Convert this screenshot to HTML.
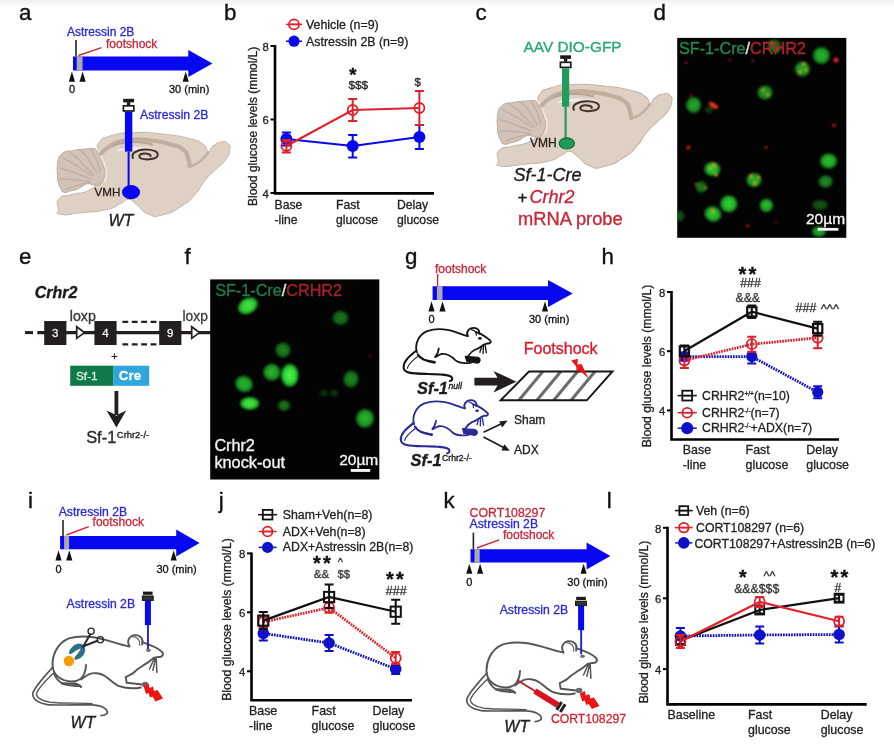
<!DOCTYPE html>
<html lang="en"><head><meta charset="utf-8"><title>Figure</title>
<style>
html,body{margin:0;padding:0;background:#fff;}
body{width:894px;height:746px;overflow:hidden;}
svg{display:block;font-family:"Liberation Sans", sans-serif;filter:blur(0.45px);}
</style></head><body>
<svg width="894" height="746" viewBox="0 0 894 746">
<defs>
<radialGradient id="gcell" cx="50%" cy="50%" r="50%">
<stop offset="0" stop-color="#2fd634"/><stop offset="0.55" stop-color="#25b92b"/><stop offset="0.85" stop-color="#178a20" stop-opacity="0.85"/><stop offset="1" stop-color="#0a3a10" stop-opacity="0"/>
</radialGradient>
<radialGradient id="gcellb" cx="50%" cy="50%" r="50%">
<stop offset="0" stop-color="#4cf54a"/><stop offset="0.6" stop-color="#2fd634"/><stop offset="0.88" stop-color="#1a9a22" stop-opacity="0.85"/><stop offset="1" stop-color="#0a3a10" stop-opacity="0"/>
</radialGradient>
<filter id="blur1" x="-5%" y="-5%" width="110%" height="110%"><feGaussianBlur stdDeviation="0.9"/></filter>
<clipPath id="clipd"><rect x="677.2" y="37.9" width="169.1" height="199.9"/></clipPath>
<clipPath id="clipf"><rect x="210.2" y="279.4" width="169.1" height="200.1"/></clipPath>
<linearGradient id="topg" x1="0" y1="0" x2="0" y2="1"><stop offset="0" stop-color="#f0f0f0"/><stop offset="1" stop-color="#ffffff"/></linearGradient>
</defs>
<rect x="0" y="0" width="894" height="746" fill="#fff"/>
<rect x="0" y="0" width="894" height="7" fill="url(#topg)"/>
<text x="19.0" y="19.5" font-size="22.3" fill="#111" stroke="#111" stroke-width="0.36">a</text>
<text x="67.0" y="35.5" font-size="12" fill="#2a2ad8" stroke="#2a2ad8" stroke-width="0.3">Astressin 2B</text>
<text x="106.0" y="47.5" font-size="12" fill="#c8283a" stroke="#c8283a" stroke-width="0.3">footshock</text>
<line x1="76" y1="40" x2="76" y2="56.5" stroke="#222" stroke-width="1.6"/>
<line x1="78.5" y1="55.5" x2="101.5" y2="47.6" stroke="#c8283a" stroke-width="1.4"/>
<polygon points="73,56.6 188.3,56.6 188.3,50 212.5,63.5 188.3,77 188.3,70.4 73,70.4" fill="#0707f2"/>
<rect x="76.7" y="56.6" width="5.9" height="13.8" fill="#a9a9b4"/>
<polygon points="68.8,81.7 75.0,81.7 71.9,71.5" fill="#111111"/>
<polygon points="79.5,81.7 85.7,81.7 82.6,71.5" fill="#111111"/>
<polygon points="182.6,81.7 188.8,81.7 185.7,71.5" fill="#111111"/>
<text x="72.0" y="93.4" font-size="11" text-anchor="middle" fill="#111111" stroke="#111111" stroke-width="0.3">0</text>
<text x="169.0" y="93.4" font-size="11" fill="#111111" stroke="#111111" stroke-width="0.3">30 (min)</text>
<g><path d="M99.3 142.5C103.3 137.7 98.6 139.2 110.4 135.9C122.2 132.6 117.2 133.2 134.6 132.6C152.0 132.0 144.6 132.1 162.7 134.1C180.8 136.1 175.5 135.1 188.9 138.5C202.3 141.9 196.5 139.9 203.0 144.2C209.5 148.5 204.9 150.9 208.3 151.5C211.7 152.1 208.8 149.1 213.1 146.0C217.4 142.9 216.1 142.8 221.1 142.1C226.1 141.4 225.2 141.1 228.0 143.8C230.8 146.5 230.6 144.7 229.6 150.2C228.6 155.7 230.0 153.6 225.1 160.3C220.2 167.0 221.7 163.6 215.0 170.3C208.3 177.0 211.7 172.3 205.0 180.4C198.3 188.5 203.0 185.8 195.0 194.5C187.0 203.2 191.7 199.8 180.9 206.6C170.1 213.4 173.4 212.3 162.7 214.8C152.0 217.3 157.4 217.6 148.7 214.2C140.0 210.8 143.3 209.5 136.6 204.6C129.9 199.7 133.9 199.8 128.5 199.5C123.1 199.2 127.9 200.2 120.5 203.6C113.1 207.0 119.2 206.6 106.4 209.6C93.6 212.6 97.3 211.0 82.2 212.6C67.1 214.2 69.1 215.7 61.2 214.4C53.3 213.1 58.9 213.9 58.4 208.6C57.9 203.3 55.0 203.1 59.6 198.4C64.2 193.7 61.9 197.5 72.1 194.5C82.3 191.5 80.9 194.9 90.3 189.5C99.7 184.1 95.1 185.5 100.3 178.4C105.5 171.3 105.7 175.0 106.0 168.3C106.3 161.6 103.9 164.3 101.3 158.3C98.7 152.3 99.0 155.5 98.3 150.2C97.6 144.9 95.3 147.3 99.3 142.5Z" fill="#dfd0c4" stroke="#c6b4a6" stroke-width="1"/><path d="M61.4 154.6C63.9 152.1 62.5 152.8 66.0 151.6C69.5 150.4 68.0 151.5 72.0 150.9C76.0 150.3 74.0 150.2 78.0 149.7C82.0 149.2 80.0 149.6 84.0 149.3C88.0 149.0 86.5 148.9 90.0 148.7C93.5 148.5 92.1 148.0 94.4 148.8C96.7 149.6 95.3 148.9 96.8 151.0C98.3 153.1 97.3 152.0 98.8 155.0C100.3 158.0 99.6 156.3 101.2 160.0C102.8 163.7 102.4 162.0 103.6 166.0C104.8 170.0 104.7 168.0 104.8 172.0C104.9 176.0 105.3 174.3 104.0 178.0C102.7 181.7 103.2 180.5 101.0 183.0C98.8 185.5 100.2 185.0 97.5 185.5C94.8 186.0 96.2 185.2 93.0 184.6C89.8 184.0 91.0 183.5 88.0 183.6C85.0 183.7 86.7 183.7 84.0 185.0C81.3 186.3 82.7 186.1 80.0 187.6C77.3 189.1 79.3 188.5 76.0 189.6C72.7 190.7 74.0 190.1 70.0 191.0C66.0 191.9 67.2 193.2 64.0 192.2C60.8 191.2 62.4 191.4 60.5 188.0C58.6 184.6 59.2 186.7 58.2 182.0C57.2 177.3 57.7 179.3 57.4 174.0C57.1 168.7 57.0 171.0 57.4 166.0C57.8 161.0 57.2 162.8 58.5 159.0C59.8 155.2 58.9 157.1 61.4 154.6Z" fill="#d2c3b8" stroke="#c3b3a8" stroke-width="1.2"/><path d="M63.0 158.0C66.0 159.7 65.7 159.3 72.0 163.0C78.3 166.7 75.3 164.7 82.0 169.0C88.7 173.3 88.7 173.7 92.0 176.0" fill="none" stroke="#c2b0a4" stroke-width="1.5" stroke-linecap="round"/><path d="M59.5 168.0C63.0 169.0 63.2 168.7 70.0 171.0C76.8 173.3 73.0 172.3 80.0 175.0C87.0 177.7 87.3 177.7 91.0 179.0" fill="none" stroke="#c2b0a4" stroke-width="1.5" stroke-linecap="round"/><path d="M60.0 179.0C63.3 179.2 63.3 179.0 70.0 179.5C76.7 180.0 73.3 179.8 80.0 180.5C86.7 181.2 86.7 181.2 90.0 181.5" fill="none" stroke="#c2b0a4" stroke-width="1.5" stroke-linecap="round"/><path d="M70.0 152.5C72.7 154.7 72.7 154.2 78.0 159.0C83.3 163.8 80.7 161.7 86.0 167.0C91.3 172.3 91.3 172.3 94.0 175.0" fill="none" stroke="#c2b0a4" stroke-width="1.5" stroke-linecap="round"/><path d="M81.0 150.5C83.0 152.7 83.3 152.2 87.0 157.0C90.7 161.8 88.8 159.7 92.0 165.0C95.2 170.3 95.0 170.3 96.5 173.0" fill="none" stroke="#c2b0a4" stroke-width="1.5" stroke-linecap="round"/><path d="M91.0 150.0C92.3 152.3 92.5 152.0 95.0 157.0C97.5 162.0 96.8 160.0 98.5 165.0C100.2 170.0 99.5 169.7 100.0 172.0" fill="none" stroke="#c2b0a4" stroke-width="1.5" stroke-linecap="round"/><path d="M66.0 189.0C68.7 188.2 68.7 188.2 74.0 186.5C79.3 184.8 76.7 185.3 82.0 184.0C87.3 182.7 87.3 183.0 90.0 182.5" fill="none" stroke="#c2b0a4" stroke-width="1.5" stroke-linecap="round"/><path d="M98 150C100.5 156 104.5 162 106.2 168.5C106.8 173.5 106 178 104.5 181.5" fill="none" stroke="#efe8e2" stroke-width="1.5" stroke-linecap="round"/><path d="M101.0 153.5C103.3 151.5 102.3 151.3 108.0 147.5C113.7 143.7 109.3 144.8 118.0 142.2C126.7 139.6 122.7 140.1 134.0 139.6C145.3 139.1 140.0 139.1 152.0 140.6C164.0 142.1 159.7 141.2 170.0 144.2C180.3 147.2 177.0 144.9 183.0 149.5C189.0 154.1 185.8 152.5 188.0 158.0C190.2 163.5 189.0 163.3 189.5 166.0" fill="none" stroke="#c2aea1" stroke-width="4.2" stroke-linecap="round"/><path d="M189.5 166.5C192.0 165.5 192.2 166.5 197.0 163.5C201.8 160.5 200.3 161.2 204.0 157.5C207.7 153.8 206.7 154.2 208.0 152.5" fill="none" stroke="#c3b0a3" stroke-width="2.5" stroke-linecap="round"/><path d="M113 146C120 141.5 140 140.5 152 144.5" fill="none" stroke="#b9a597" stroke-width="2.2" stroke-linecap="round"/><path d="M117 150.5C124 147 146 146 156 149.8C146 148.6 126 149.4 117 150.5Z" fill="#f3efec" stroke="#efe9e5" stroke-width="1.4"/><path d="M133 158C130.4 153.4 137 149.8 145 149.5C153 149.2 158.6 151.6 157.6 155.4C156.6 159 147 160.3 141.6 158.6C137.6 157.1 139.2 153.7 144 153.5C148 153.4 151 154.6 150.6 156.2" fill="none" stroke="#3f342c" stroke-width="2" stroke-linecap="round"/></g>
<rect x="123.2" y="98.8" width="10.8" height="3.6" fill="#1a1a1a"/>
<rect x="126.9" y="102.2" width="3.4" height="3.0" fill="#1a1a1a"/>
<rect x="123.4" y="105.8" width="10.4" height="5.2" fill="#fff" stroke="#1a1a1a" stroke-width="1.7"/>
<rect x="124.9" y="111.8" width="7.4" height="39.8" fill="#0707f2"/>
<rect x="127.6" y="151.6" width="2" height="36.4" fill="#0707f2"/>
<ellipse cx="131" cy="192.2" rx="9" ry="7.1" fill="#0707f2"/>
<text x="140.0" y="119.2" font-size="12.2" fill="#2a2ad8" stroke="#2a2ad8" stroke-width="0.3">Astressin 2B</text>
<text x="94.6" y="196.0" font-size="11.6" fill="#2b2420" stroke="#2b2420" stroke-width="0.3">VMH</text>
<text x="108.5" y="226.0" font-size="16" font-style="italic" fill="#222" stroke="#222" stroke-width="0.36">WT</text>
<text x="224.0" y="19.5" font-size="22.3" fill="#111" stroke="#111" stroke-width="0.36">b</text>
<path d="M275.0 45V193.4H434" fill="none" stroke="#000" stroke-width="2.6"/>
<line x1="270.5" y1="46" x2="275.0" y2="46" stroke="#000" stroke-width="2"/>
<text x="268.7" y="50.7" font-size="11.3" text-anchor="end" fill="#222" stroke="#222" stroke-width="0.3">8</text>
<line x1="270.5" y1="119.5" x2="275.0" y2="119.5" stroke="#000" stroke-width="2"/>
<text x="268.7" y="124.2" font-size="11.3" text-anchor="end" fill="#222" stroke="#222" stroke-width="0.3">6</text>
<line x1="270.5" y1="193" x2="275.0" y2="193" stroke="#000" stroke-width="2"/>
<text x="268.7" y="197.7" font-size="11.3" text-anchor="end" fill="#222" stroke="#222" stroke-width="0.3">4</text>
<text transform="translate(257.2,126.3) rotate(-90)" font-size="11.95" text-anchor="middle" fill="#222" stroke="#222" stroke-width="0.3">Blood glucose levels (mmol/L)</text>
<polyline points="286.4,139.0 352.7,146.0 419.4,137.0" fill="none" stroke="#0707f2" stroke-width="2.2"/>
<path d="M286.4 132.5V145.5M281.9 132.5h9.0M281.9 145.5h9.0" stroke="#0707f2" stroke-width="2" fill="none"/>
<path d="M352.7 135.0V157.5M348.2 135.0h9.0M348.2 157.5h9.0" stroke="#0707f2" stroke-width="2" fill="none"/>
<path d="M419.4 125.0V149.0M414.9 125.0h9.0M414.9 149.0h9.0" stroke="#0707f2" stroke-width="2" fill="none"/>
<circle cx="286.4" cy="139.0" r="6" fill="#0707f2"/>
<circle cx="352.7" cy="146.0" r="6" fill="#0707f2"/>
<circle cx="419.4" cy="137.0" r="6" fill="#0707f2"/>
<polyline points="286.4,146.0 352.7,110.0 419.4,108.0" fill="none" stroke="#e0202a" stroke-width="2.2"/>
<path d="M286.4 140.0V152.5M281.9 140.0h9.0M281.9 152.5h9.0" stroke="#e0202a" stroke-width="2" fill="none"/>
<path d="M352.7 99.0V121.0M348.2 99.0h9.0M348.2 121.0h9.0" stroke="#e0202a" stroke-width="2" fill="none"/>
<path d="M419.4 91.0V125.0M414.9 91.0h9.0M414.9 125.0h9.0" stroke="#e0202a" stroke-width="2" fill="none"/>
<circle cx="286.4" cy="146.0" r="5" fill="none" stroke="#e0202a" stroke-width="1.8"/>
<circle cx="352.7" cy="110.0" r="5" fill="none" stroke="#e0202a" stroke-width="1.8"/>
<circle cx="419.4" cy="108.0" r="5" fill="none" stroke="#e0202a" stroke-width="1.8"/>
<line x1="286" y1="24.4" x2="302" y2="24.4" stroke="#e0202a" stroke-width="1.5"/>
<circle cx="294.0" cy="24.4" r="5.0" fill="none" stroke="#e0202a" stroke-width="1.8"/>
<line x1="289.0" y1="24.4" x2="299.0" y2="24.4" stroke="#e0202a" stroke-width="1.6"/>
<text x="306.0" y="28.8" font-size="12.4" fill="#222" stroke="#222" stroke-width="0.3">Vehicle (n=9)</text>
<line x1="286" y1="41.2" x2="302" y2="41.2" stroke="#0707f2" stroke-width="1.5"/>
<circle cx="294.0" cy="41.2" r="5.6" fill="#0707f2"/>
<text x="306.0" y="45.6" font-size="12.4" fill="#222" stroke="#222" stroke-width="0.3">Astressin 2B (n=9)</text>
<text x="352.9" y="81.4" font-size="18.5" text-anchor="middle" font-weight="bold" fill="#111" stroke="#111" stroke-width="0.36">*</text>
<text x="358.3" y="88.6" font-size="11.8" text-anchor="middle" fill="#222" stroke="#222" stroke-width="0.3">$$$</text>
<text x="417.8" y="85.6" font-size="11.5" text-anchor="middle" fill="#222" stroke="#222" stroke-width="0.3">$</text>
<text x="274.5" y="209.3" font-size="12.2" fill="#222" stroke="#222" stroke-width="0.3">Base</text>
<text x="274.5" y="224.0" font-size="12.2" fill="#222" stroke="#222" stroke-width="0.3">-line</text>
<text x="336.0" y="209.3" font-size="12.2" fill="#222" stroke="#222" stroke-width="0.3">Fast</text>
<text x="336.0" y="224.0" font-size="12.2" fill="#222" stroke="#222" stroke-width="0.3">glucose</text>
<text x="397.0" y="209.3" font-size="12.2" fill="#222" stroke="#222" stroke-width="0.3">Delay</text>
<text x="397.0" y="224.0" font-size="12.2" fill="#222" stroke="#222" stroke-width="0.3">glucose</text>
<text x="475.5" y="19.8" font-size="22.3" fill="#111" stroke="#111" stroke-width="0.36">c</text>
<text x="523.5" y="51.5" font-size="15.4" fill="#2ba77a" stroke="#2ba77a" stroke-width="0.36">AAV DIO-GFP</text>
<g transform="translate(439.3,-48.2) scale(1.012,1)"><path d="M99.3 142.5C103.3 137.7 98.6 139.2 110.4 135.9C122.2 132.6 117.2 133.2 134.6 132.6C152.0 132.0 144.6 132.1 162.7 134.1C180.8 136.1 175.5 135.1 188.9 138.5C202.3 141.9 196.5 139.9 203.0 144.2C209.5 148.5 204.9 150.9 208.3 151.5C211.7 152.1 208.8 149.1 213.1 146.0C217.4 142.9 216.1 142.8 221.1 142.1C226.1 141.4 225.2 141.1 228.0 143.8C230.8 146.5 230.6 144.7 229.6 150.2C228.6 155.7 230.0 153.6 225.1 160.3C220.2 167.0 221.7 163.6 215.0 170.3C208.3 177.0 211.7 172.3 205.0 180.4C198.3 188.5 203.0 185.8 195.0 194.5C187.0 203.2 191.7 199.8 180.9 206.6C170.1 213.4 173.4 212.3 162.7 214.8C152.0 217.3 157.4 217.6 148.7 214.2C140.0 210.8 143.3 209.5 136.6 204.6C129.9 199.7 133.9 199.8 128.5 199.5C123.1 199.2 127.9 200.2 120.5 203.6C113.1 207.0 119.2 206.6 106.4 209.6C93.6 212.6 97.3 211.0 82.2 212.6C67.1 214.2 69.1 215.7 61.2 214.4C53.3 213.1 58.9 213.9 58.4 208.6C57.9 203.3 55.0 203.1 59.6 198.4C64.2 193.7 61.9 197.5 72.1 194.5C82.3 191.5 80.9 194.9 90.3 189.5C99.7 184.1 95.1 185.5 100.3 178.4C105.5 171.3 105.7 175.0 106.0 168.3C106.3 161.6 103.9 164.3 101.3 158.3C98.7 152.3 99.0 155.5 98.3 150.2C97.6 144.9 95.3 147.3 99.3 142.5Z" fill="#dfd0c4" stroke="#c6b4a6" stroke-width="1"/><path d="M61.4 154.6C63.9 152.1 62.5 152.8 66.0 151.6C69.5 150.4 68.0 151.5 72.0 150.9C76.0 150.3 74.0 150.2 78.0 149.7C82.0 149.2 80.0 149.6 84.0 149.3C88.0 149.0 86.5 148.9 90.0 148.7C93.5 148.5 92.1 148.0 94.4 148.8C96.7 149.6 95.3 148.9 96.8 151.0C98.3 153.1 97.3 152.0 98.8 155.0C100.3 158.0 99.6 156.3 101.2 160.0C102.8 163.7 102.4 162.0 103.6 166.0C104.8 170.0 104.7 168.0 104.8 172.0C104.9 176.0 105.3 174.3 104.0 178.0C102.7 181.7 103.2 180.5 101.0 183.0C98.8 185.5 100.2 185.0 97.5 185.5C94.8 186.0 96.2 185.2 93.0 184.6C89.8 184.0 91.0 183.5 88.0 183.6C85.0 183.7 86.7 183.7 84.0 185.0C81.3 186.3 82.7 186.1 80.0 187.6C77.3 189.1 79.3 188.5 76.0 189.6C72.7 190.7 74.0 190.1 70.0 191.0C66.0 191.9 67.2 193.2 64.0 192.2C60.8 191.2 62.4 191.4 60.5 188.0C58.6 184.6 59.2 186.7 58.2 182.0C57.2 177.3 57.7 179.3 57.4 174.0C57.1 168.7 57.0 171.0 57.4 166.0C57.8 161.0 57.2 162.8 58.5 159.0C59.8 155.2 58.9 157.1 61.4 154.6Z" fill="#d2c3b8" stroke="#c3b3a8" stroke-width="1.2"/><path d="M63.0 158.0C66.0 159.7 65.7 159.3 72.0 163.0C78.3 166.7 75.3 164.7 82.0 169.0C88.7 173.3 88.7 173.7 92.0 176.0" fill="none" stroke="#c2b0a4" stroke-width="1.5" stroke-linecap="round"/><path d="M59.5 168.0C63.0 169.0 63.2 168.7 70.0 171.0C76.8 173.3 73.0 172.3 80.0 175.0C87.0 177.7 87.3 177.7 91.0 179.0" fill="none" stroke="#c2b0a4" stroke-width="1.5" stroke-linecap="round"/><path d="M60.0 179.0C63.3 179.2 63.3 179.0 70.0 179.5C76.7 180.0 73.3 179.8 80.0 180.5C86.7 181.2 86.7 181.2 90.0 181.5" fill="none" stroke="#c2b0a4" stroke-width="1.5" stroke-linecap="round"/><path d="M70.0 152.5C72.7 154.7 72.7 154.2 78.0 159.0C83.3 163.8 80.7 161.7 86.0 167.0C91.3 172.3 91.3 172.3 94.0 175.0" fill="none" stroke="#c2b0a4" stroke-width="1.5" stroke-linecap="round"/><path d="M81.0 150.5C83.0 152.7 83.3 152.2 87.0 157.0C90.7 161.8 88.8 159.7 92.0 165.0C95.2 170.3 95.0 170.3 96.5 173.0" fill="none" stroke="#c2b0a4" stroke-width="1.5" stroke-linecap="round"/><path d="M91.0 150.0C92.3 152.3 92.5 152.0 95.0 157.0C97.5 162.0 96.8 160.0 98.5 165.0C100.2 170.0 99.5 169.7 100.0 172.0" fill="none" stroke="#c2b0a4" stroke-width="1.5" stroke-linecap="round"/><path d="M66.0 189.0C68.7 188.2 68.7 188.2 74.0 186.5C79.3 184.8 76.7 185.3 82.0 184.0C87.3 182.7 87.3 183.0 90.0 182.5" fill="none" stroke="#c2b0a4" stroke-width="1.5" stroke-linecap="round"/><path d="M98 150C100.5 156 104.5 162 106.2 168.5C106.8 173.5 106 178 104.5 181.5" fill="none" stroke="#efe8e2" stroke-width="1.5" stroke-linecap="round"/><path d="M101.0 153.5C103.3 151.5 102.3 151.3 108.0 147.5C113.7 143.7 109.3 144.8 118.0 142.2C126.7 139.6 122.7 140.1 134.0 139.6C145.3 139.1 140.0 139.1 152.0 140.6C164.0 142.1 159.7 141.2 170.0 144.2C180.3 147.2 177.0 144.9 183.0 149.5C189.0 154.1 185.8 152.5 188.0 158.0C190.2 163.5 189.0 163.3 189.5 166.0" fill="none" stroke="#c2aea1" stroke-width="4.2" stroke-linecap="round"/><path d="M189.5 166.5C192.0 165.5 192.2 166.5 197.0 163.5C201.8 160.5 200.3 161.2 204.0 157.5C207.7 153.8 206.7 154.2 208.0 152.5" fill="none" stroke="#c3b0a3" stroke-width="2.5" stroke-linecap="round"/><path d="M113 146C120 141.5 140 140.5 152 144.5" fill="none" stroke="#b9a597" stroke-width="2.2" stroke-linecap="round"/><path d="M117 150.5C124 147 146 146 156 149.8C146 148.6 126 149.4 117 150.5Z" fill="#f3efec" stroke="#efe9e5" stroke-width="1.4"/><path d="M133 158C130.4 153.4 137 149.8 145 149.5C153 149.2 158.6 151.6 157.6 155.4C156.6 159 147 160.3 141.6 158.6C137.6 157.1 139.2 153.7 144 153.5C148 153.4 151 154.6 150.6 156.2" fill="none" stroke="#3f342c" stroke-width="2" stroke-linecap="round"/></g>
<rect x="560.2" y="55.3" width="10.8" height="3.6" fill="#1a1a1a"/>
<rect x="563.9" y="58.7" width="3.4" height="3.0" fill="#1a1a1a"/>
<rect x="560.4" y="62.3" width="10.4" height="5.1" fill="#fff" stroke="#1a1a1a" stroke-width="1.7"/>
<rect x="562.0" y="68.2" width="7.2" height="38.6" fill="#1f9c5c"/>
<rect x="564.5" y="106.8" width="2.2" height="33.2" fill="#1f9c5c"/>
<ellipse cx="566.8" cy="143.4" rx="7.6" ry="5.6" fill="#1f9c5c" stroke="#14683c" stroke-width="1.2"/>
<text x="530.0" y="147.0" font-size="12" fill="#2b2420" stroke="#2b2420" stroke-width="0.3">VMH</text>
<text x="513.5" y="181.4" font-size="18" font-style="italic" fill="#1c1c1c" stroke="#1c1c1c" stroke-width="0.36">Sf-1-Cre</text>
<text x="517.5" y="203.2" font-size="17" fill="#1c1c1c" stroke="#1c1c1c" stroke-width="0.36">+</text>
<text x="529.5" y="203.3" font-size="18" font-style="italic" fill="#c8283a" stroke="#c8283a" stroke-width="0.36">Crhr2</text>
<text x="518.0" y="224.6" font-size="18.3" fill="#c8283a" stroke="#c8283a" stroke-width="0.36">mRNA probe</text>
<text x="653.5" y="19.8" font-size="22.3" fill="#111" stroke="#111" stroke-width="0.36">d</text>
<rect x="677.2" y="37.9" width="169.1" height="199.9" fill="#030303"/>
<g clip-path="url(#clipd)"><g filter="url(#blur1)">
<ellipse cx="774.6" cy="46.5" rx="8" ry="8" fill="url(#gcell)" opacity="0.55"/>
<ellipse cx="821.4" cy="55.5" rx="9.5" ry="9.5" fill="url(#gcell)" opacity="0.85"/>
<ellipse cx="802.4" cy="69" rx="8.5" ry="8.5" fill="url(#gcell)" opacity="0.8"/>
<ellipse cx="765" cy="92.5" rx="8.5" ry="8" fill="url(#gcell)" opacity="0.75"/>
<ellipse cx="693.6" cy="105" rx="8.5" ry="9" fill="url(#gcell)" opacity="0.8"/>
<ellipse cx="712.4" cy="169" rx="9" ry="8" fill="url(#gcell)" opacity="0.95"/>
<ellipse cx="754" cy="180" rx="8.5" ry="8" fill="url(#gcell)" opacity="0.85"/>
<ellipse cx="701.3" cy="187" rx="6.5" ry="6.5" fill="url(#gcell)" opacity="0.55"/>
<ellipse cx="828.6" cy="161" rx="9.5" ry="8.5" fill="url(#gcell)" opacity="0.9"/>
<ellipse cx="825.6" cy="181.5" rx="8" ry="7" fill="url(#gcell)" opacity="0.65"/>
<ellipse cx="728.8" cy="203.8" rx="9.5" ry="9.5" fill="url(#gcell)" opacity="1.0"/>
<ellipse cx="766.4" cy="205.4" rx="7.5" ry="7.5" fill="url(#gcell)" opacity="0.9"/>
<ellipse cx="712.9" cy="214" rx="9.5" ry="8.5" fill="url(#gcell)" opacity="0.95" transform="rotate(25 712.9 214)"/>
<ellipse cx="820" cy="205" rx="9" ry="6" fill="url(#gcell)" opacity="0.4"/>
<ellipse cx="819" cy="231.5" rx="8" ry="6" fill="url(#gcell)" opacity="0.8"/>
<ellipse cx="680" cy="216" rx="5" ry="6" fill="url(#gcell)" opacity="0.4"/>
<ellipse cx="709" cy="110" rx="5" ry="4" fill="url(#gcell)" opacity="0.25"/>
<circle cx="713" cy="105" r="2.6" fill="#f03a20" opacity="0.95"/>
<circle cx="716" cy="107" r="2.2" fill="#f03a20" opacity="0.9"/>
<circle cx="710.5" cy="103.5" r="2" fill="#f03a20" opacity="0.8"/>
<circle cx="836" cy="60" r="2.6" fill="#e8202a" opacity="0.95"/>
<circle cx="834" cy="125.5" r="1.8" fill="#e8202a" opacity="0.85"/>
<circle cx="686" cy="62.5" r="1.6" fill="#e8202a" opacity="0.5"/>
<circle cx="730" cy="60" r="1.4" fill="#e8202a" opacity="0.5"/>
<circle cx="752.8" cy="61" r="1.4" fill="#e8202a" opacity="0.6"/>
<circle cx="691" cy="95" r="1.3" fill="#e8202a" opacity="0.6"/>
<circle cx="688.4" cy="147.5" r="2.2" fill="#e8202a" opacity="0.75"/>
<circle cx="766" cy="147.5" r="1.6" fill="#e8202a" opacity="0.75"/>
<circle cx="747.6" cy="225.7" r="1.8" fill="#e8202a" opacity="0.7"/>
<circle cx="776" cy="222" r="1.2" fill="#e8202a" opacity="0.4"/>
<circle cx="714" cy="165" r="1.8" fill="#f0a020" opacity="0.85"/>
<circle cx="716.5" cy="175" r="1.5" fill="#f0a020" opacity="0.85"/>
<circle cx="710" cy="168" r="1.2" fill="#f0a020" opacity="0.85"/>
<circle cx="751" cy="176" r="1.4" fill="#f0a020" opacity="0.85"/>
<circle cx="759" cy="177" r="1.2" fill="#f0a020" opacity="0.85"/>
<circle cx="755" cy="183.5" r="1.5" fill="#f0a020" opacity="0.85"/>
<circle cx="804" cy="64" r="1.4" fill="#f0a020" opacity="0.85"/>
<circle cx="800" cy="72" r="1.5" fill="#f0a020" opacity="0.85"/>
<circle cx="806" cy="70" r="1.2" fill="#f0a020" opacity="0.85"/>
<circle cx="763" cy="90" r="1.2" fill="#f0a020" opacity="0.85"/>
<circle cx="768" cy="95" r="1.3" fill="#f0a020" opacity="0.85"/>
<circle cx="771" cy="43" r="1.4" fill="#f0a020" opacity="0.85"/>
<circle cx="777" cy="49" r="1.2" fill="#f0a020" opacity="0.85"/>
<circle cx="713" cy="211" r="1.6" fill="#f0a020" opacity="0.85"/>
<circle cx="696" cy="184" r="1.1" fill="#f0a020" opacity="0.85"/>
<circle cx="706" cy="188" r="1.1" fill="#f0a020" opacity="0.85"/>
</g>
<text x="679.0" y="54.2" font-size="16.2" fill="#23864f" stroke="#23864f" stroke-width="0.36">SF-1-Cre<tspan fill="#e8e8e8" stroke="#e8e8e8">/</tspan><tspan fill="#b0222c" stroke="#b0222c">CRHR2</tspan></text>
<text x="806.0" y="224.3" font-size="15.5" fill="#f4f4f4" stroke="#f4f4f4" stroke-width="0.36">20µm</text>
<rect x="817.8" y="227.9" width="20.5" height="2.8" fill="#f4f4f4"/>
</g>
<text x="19.0" y="263.8" font-size="22.3" fill="#111" stroke="#111" stroke-width="0.36">e</text>
<text x="34.7" y="298.0" font-size="16" font-weight="bold" font-style="italic" fill="#1c1c1c" stroke="#1c1c1c" stroke-width="0.36">Crhr2</text>
<line x1="25" y1="332.6" x2="33" y2="332.6" stroke="#231f20" stroke-width="3"/>
<line x1="37.3" y1="332.6" x2="211" y2="332.6" stroke="#231f20" stroke-width="3.1"/>
<rect x="44.2" y="321" width="22.2" height="24" fill="#231f20"/>
<text x="55.3" y="337.0" font-size="11.5" text-anchor="middle" fill="#f2f2f2" stroke="#f2f2f2" stroke-width="0.3">3</text>
<rect x="94.4" y="321" width="22.2" height="24" fill="#231f20"/>
<text x="105.5" y="337.0" font-size="11.5" text-anchor="middle" fill="#f2f2f2" stroke="#f2f2f2" stroke-width="0.3">4</text>
<rect x="159.2" y="321" width="22.2" height="24" fill="#231f20"/>
<text x="170.3" y="337.0" font-size="11.5" text-anchor="middle" fill="#f2f2f2" stroke="#f2f2f2" stroke-width="0.3">9</text>
<polygon points="76.7,326.8 84.5,332.6 76.7,338.40000000000003" fill="#fff" stroke="#231f20" stroke-width="1.7" stroke-linejoin="miter"/>
<polygon points="191.7,326.8 199.5,332.6 191.7,338.40000000000003" fill="#fff" stroke="#231f20" stroke-width="1.7" stroke-linejoin="miter"/>
<text x="69.8" y="320.8" font-size="14.2" fill="#3a3a3a" stroke="#3a3a3a" stroke-width="0.36">loxp</text>
<text x="182.5" y="320.8" font-size="13.8" fill="#3a3a3a" stroke="#3a3a3a" stroke-width="0.3">loxp</text>
<line x1="122.4" y1="321.8" x2="157" y2="321.8" stroke="#231f20" stroke-width="2.2" stroke-dasharray="5.8 3.6"/>
<line x1="122.4" y1="344.4" x2="157" y2="344.4" stroke="#231f20" stroke-width="2.2" stroke-dasharray="5.8 3.6"/>
<text x="114.5" y="360.2" font-size="11" text-anchor="middle" fill="#222" stroke="#222" stroke-width="0.3">+</text>
<rect x="70.2" y="365.7" width="43.2" height="20.1" fill="#0f7a48"/>
<rect x="113.2" y="365.7" width="36" height="20.1" fill="#2fa5de"/>
<text x="76.0" y="379.8" font-size="11.8" fill="#dcefe3" stroke="#dcefe3" stroke-width="0.3">Sf-1</text>
<text x="118.8" y="380.2" font-size="13.4" font-weight="bold" fill="#ffffff" stroke="#ffffff" stroke-width="0.3">Cre</text>
<rect x="114.5" y="391" width="3.8" height="24" fill="#231f20"/>
<path d="M106.6 410.5C111 412.5 114.5 414 116.4 416C118.3 414 121.8 412.5 126.2 410.5L116.4 427.5Z" fill="#231f20"/>
<text x="86.2" y="443.2" font-size="16.4" fill="#2a2a2a" stroke="#2a2a2a" stroke-width="0.36">Sf-1<tspan font-size="9.4" dy="-5.4" dx="0.6">Crhr2-/-</tspan></text>
<text x="184.5" y="263.8" font-size="22.3" fill="#111" stroke="#111" stroke-width="0.36">f</text>
<rect x="210.2" y="279.4" width="169.1" height="200.1" fill="#030303"/>
<g clip-path="url(#clipf)"><g filter="url(#blur1)">
<ellipse cx="247.9" cy="305.8" rx="11.5" ry="8.5" fill="url(#gcellb)" opacity="0.95" transform="rotate(-30 247.9 305.8)"/>
<ellipse cx="340.5" cy="317.9" rx="9" ry="8" fill="url(#gcell)" opacity="0.55"/>
<ellipse cx="283" cy="350" rx="8.5" ry="8.5" fill="url(#gcell)" opacity="0.6"/>
<ellipse cx="271.8" cy="372.2" rx="9.5" ry="9.5" fill="url(#gcell)" opacity="0.85"/>
<ellipse cx="289.8" cy="375.3" rx="9.5" ry="12.5" fill="url(#gcellb)" opacity="1.0"/>
<ellipse cx="351" cy="379" rx="8.5" ry="9.5" fill="url(#gcell)" opacity="0.62" transform="rotate(10 351 379)"/>
<ellipse cx="244" cy="384" rx="10" ry="9" fill="url(#gcell)" opacity="0.85" transform="rotate(25 244 384)"/>
<ellipse cx="249.7" cy="403.4" rx="10.5" ry="7" fill="url(#gcellb)" opacity="0.95"/>
<ellipse cx="284" cy="405.5" rx="7" ry="6" fill="url(#gcell)" opacity="0.55"/>
<ellipse cx="365" cy="418.4" rx="10" ry="10.5" fill="url(#gcell)" opacity="0.85" transform="rotate(20 365 418.4)"/>
<ellipse cx="323.8" cy="393" rx="5" ry="4" fill="url(#gcell)" opacity="0.2"/>
<ellipse cx="334" cy="393" rx="5" ry="4" fill="url(#gcell)" opacity="0.25"/>
<circle cx="370" cy="355.7" r="1.1" fill="#e8202a" opacity="0.6"/>
</g>
<text x="215.2" y="296.2" font-size="16.2" fill="#217a4c" stroke="#217a4c" stroke-width="0.36">SF-1-Cre<tspan fill="#e8e8e8" stroke="#e8e8e8">/</tspan><tspan fill="#a8202c" stroke="#a8202c">CRHR2</tspan></text>
<text x="214.4" y="451.0" font-size="16.2" fill="#f2f2f2" stroke="#f2f2f2" stroke-width="0.36">Crhr2</text>
<text x="214.4" y="467.8" font-size="16.3" fill="#f2f2f2" stroke="#f2f2f2" stroke-width="0.36">knock-out</text>
<text x="339.2" y="465.4" font-size="15.5" fill="#f4f4f4" stroke="#f4f4f4" stroke-width="0.36">20µm</text>
<rect x="350.8" y="469" width="19.4" height="2.9" fill="#f4f4f4"/>
</g>
<text x="405.0" y="263.8" font-size="22.3" fill="#111" stroke="#111" stroke-width="0.36">g</text>
<text x="435.0" y="273.2" font-size="12" fill="#c8283a" stroke="#c8283a" stroke-width="0.3">footshock</text>
<line x1="437.6" y1="274" x2="437.6" y2="286.5" stroke="#c8283a" stroke-width="1.4"/>
<polygon points="432.6,286.3 548,286.3 548,280 572.8,293.5 548,307 548,300.1 432.6,300.1" fill="#0707f2"/>
<rect x="436.9" y="286.3" width="5.6" height="13.8" fill="#a9a9b4"/>
<polygon points="428.4,311.4 434.6,311.4 431.5,301.3" fill="#111111"/>
<polygon points="439.4,311.4 445.6,311.4 442.5,301.3" fill="#111111"/>
<polygon points="541.9,311.4 548.1,311.4 545,301.3" fill="#111111"/>
<text x="431.5" y="322.9" font-size="11" text-anchor="middle" fill="#111111" stroke="#111111" stroke-width="0.3">0</text>
<text x="529.0" y="322.9" font-size="11" fill="#111111" stroke="#111111" stroke-width="0.3">30 (min)</text>
<g transform="translate(395,320) scale(0.12305)" fill="none" stroke="#151515" stroke-width="15" stroke-linecap="round" stroke-linejoin="round"><path d="M178 262C158 200 190 118 262 90C335 64 430 76 500 100C540 114 565 126 590 130" /><path d="M592 130C574 100 600 64 640 64C672 64 692 88 684 112" /><path d="M622 78C650 84 664 100 660 124" stroke-width="10"/><path d="M660 98C700 112 745 140 772 166C788 180 772 194 752 190L722 200C700 214 682 234 652 240C630 250 610 270 592 296" /><path d="M620 346C560 356 520 350 490 326C460 296 420 270 380 276C360 280 345 294 330 300" /><path d="M356 232C352 262 342 284 326 300" /><path d="M186 280C205 318 250 334 322 346" stroke-width="18"/><path d="M232 322L325 340" stroke-width="12"/><path d="M172 250C120 292 68 332 70 386C72 430 130 436 250 438C350 440 432 440 460 464C472 480 462 496 446 496" stroke-width="17"/><path d="M190 292C150 322 112 352 100 392" stroke-width="9"/><path d="M704 214L690 262M718 208L716 272M732 204L742 266" stroke-width="11"/><path d="M572 296L676 304C700 314 696 344 670 350L582 334Z" fill="#151515" stroke-width="10"/><ellipse cx="690" cy="150" rx="15" ry="11" fill="#151515" stroke="none"/></g>
<text x="417.0" y="394.0" font-size="16.4" font-weight="bold" font-style="italic" fill="#1c1c1c" stroke="#1c1c1c" stroke-width="0.36">Sf-1<tspan font-size="8.6" dy="-5" dx="0.5" font-weight="normal">null</tspan></text>
<path d="M474.4 377.8H497.5L493.5 371L516.5 381.7L493.5 392.4L497.5 385.6H474.4Z" fill="#231f20"/>
<g>
<polygon points="529,371.5 612.5,371.5 586.8,400.3 500.6,400.3" fill="#fff"/>
<line x1="542.8" y1="371.5" x2="518.9" y2="400.3" stroke="#6d6d6d" stroke-width="3.1"/>
<line x1="560.8" y1="371.5" x2="536.9" y2="400.3" stroke="#6d6d6d" stroke-width="3.1"/>
<line x1="577.6" y1="371.5" x2="553.7" y2="400.3" stroke="#6d6d6d" stroke-width="3.1"/>
<line x1="595.0" y1="371.5" x2="571.1" y2="400.3" stroke="#6d6d6d" stroke-width="3.1"/>
<polygon points="529,371.5 612.5,371.5 586.8,400.3 500.6,400.3" fill="none" stroke="#161616" stroke-width="1.9" stroke-linejoin="miter"/>
</g>
<text x="523.8" y="354.2" font-size="16" fill="#d8202c" stroke="#d8202c" stroke-width="0.36">Footshock</text>
<polygon points="571.2,360.5 578.0,358.8 577.4,364.6 581.6,364.0 588.4,378.5 580.6,371.2 576.6,371.6 576.2,366.6" fill="#ee1515"/>
<g transform="translate(392.2,392.3) scale(0.12305)" fill="none" stroke="#2a2a96" stroke-width="15" stroke-linecap="round" stroke-linejoin="round"><path d="M178 262C158 200 190 118 262 90C335 64 430 76 500 100C540 114 565 126 590 130" /><path d="M592 130C574 100 600 64 640 64C672 64 692 88 684 112" /><path d="M622 78C650 84 664 100 660 124" stroke-width="10"/><path d="M660 98C700 112 745 140 772 166C788 180 772 194 752 190L722 200C700 214 682 234 652 240C630 250 610 270 592 296" /><path d="M620 346C560 356 520 350 490 326C460 296 420 270 380 276C360 280 345 294 330 300" /><path d="M356 232C352 262 342 284 326 300" /><path d="M186 280C205 318 250 334 322 346" stroke-width="18"/><path d="M232 322L325 340" stroke-width="12"/><path d="M172 250C120 292 68 332 70 386C72 430 130 436 250 438C350 440 432 440 460 464C472 480 462 496 446 496" stroke-width="17"/><path d="M190 292C150 322 112 352 100 392" stroke-width="9"/><path d="M704 214L690 262M718 208L716 272M732 204L742 266" stroke-width="11"/><path d="M572 296L676 304C700 314 696 344 670 350L582 334Z" fill="#2a2a96" stroke-width="10"/><ellipse cx="690" cy="150" rx="15" ry="11" fill="#2a2a96" stroke="none"/></g>
<text x="410.6" y="466.0" font-size="16.4" font-weight="bold" font-style="italic" fill="#1c1c1c" stroke="#1c1c1c" stroke-width="0.36">Sf-1<tspan font-size="8.6" dy="-5" dx="0.5" font-weight="normal" font-style="normal">Crhr2-/-</tspan></text>
<path d="M483.5 432.2L503 423" stroke="#1a1a1a" stroke-width="1.6" fill="none"/>
<polygon points="507.6,420.6 499.2,421.4 502.2,427.6" fill="#1a1a1a"/>
<path d="M483.5 437L505 448.2" stroke="#1a1a1a" stroke-width="1.6" fill="none"/>
<polygon points="509.8,450.8 501.4,450.6 504.4,444.2" fill="#1a1a1a"/>
<text x="514.0" y="424.4" font-size="12" fill="#222" stroke="#222" stroke-width="0.3">Sham</text>
<text x="514.0" y="454.4" font-size="12" fill="#222" stroke="#222" stroke-width="0.3">ADX</text>
<text x="601.5" y="263.8" font-size="22.3" fill="#111" stroke="#111" stroke-width="0.36">h</text>
<path d="M671.5 291V439.5H839" fill="none" stroke="#000" stroke-width="2.6"/>
<line x1="667.0" y1="292" x2="671.5" y2="292" stroke="#000" stroke-width="2"/>
<text x="665.2" y="296.7" font-size="11.3" text-anchor="end" fill="#222" stroke="#222" stroke-width="0.3">8</text>
<line x1="667.0" y1="351.2" x2="671.5" y2="351.2" stroke="#000" stroke-width="2"/>
<text x="665.2" y="355.9" font-size="11.3" text-anchor="end" fill="#222" stroke="#222" stroke-width="0.3">6</text>
<line x1="667.0" y1="410.4" x2="671.5" y2="410.4" stroke="#000" stroke-width="2"/>
<text x="665.2" y="415.1" font-size="11.3" text-anchor="end" fill="#222" stroke="#222" stroke-width="0.3">4</text>
<text transform="translate(650.5,366) rotate(-90)" font-size="12.2" text-anchor="middle" fill="#222" stroke="#222" stroke-width="0.3">Blood glucose levels (mmol/L)</text>
<polyline points="684.4,356.6 751.8,356.6 817.7,392.2" fill="none" stroke="#1010c8" stroke-width="2.8000000000000003" stroke-dasharray="1.7 1.0"/>
<path d="M684.4 352.6V360.6M679.9 352.6h9.0M679.9 360.6h9.0" stroke="#1010c8" stroke-width="2" fill="none"/>
<path d="M751.8 353.6V363.6M747.3 353.6h9.0M747.3 363.6h9.0" stroke="#1010c8" stroke-width="2" fill="none"/>
<path d="M817.7 386.2V398.2M813.2 386.2h9.0M813.2 398.2h9.0" stroke="#1010c8" stroke-width="2" fill="none"/>
<circle cx="684.4" cy="356.6" r="5.6" fill="#1010c8"/>
<circle cx="751.8" cy="356.6" r="5.6" fill="#1010c8"/>
<circle cx="817.7" cy="392.2" r="5.6" fill="#1010c8"/>
<polyline points="684.4,360.5 751.8,344.2 817.7,337.8" fill="none" stroke="#e0202a" stroke-width="2.8000000000000003" stroke-dasharray="1.7 1.0"/>
<path d="M684.4 355.5V368.0M679.9 355.5h9.0M679.9 368.0h9.0" stroke="#e0202a" stroke-width="2" fill="none"/>
<path d="M751.8 336.7V351.7M747.3 336.7h9.0M747.3 351.7h9.0" stroke="#e0202a" stroke-width="2" fill="none"/>
<path d="M817.7 335.8V348.3M813.2 335.8h9.0M813.2 348.3h9.0" stroke="#e0202a" stroke-width="2" fill="none"/>
<circle cx="684.4" cy="360.5" r="5" fill="none" stroke="#e0202a" stroke-width="1.8"/>
<circle cx="751.8" cy="344.2" r="5" fill="none" stroke="#e0202a" stroke-width="1.8"/>
<circle cx="817.7" cy="337.8" r="5" fill="none" stroke="#e0202a" stroke-width="1.8"/>
<polyline points="684.4,351.0 751.8,311.8 817.7,328.6" fill="none" stroke="#111" stroke-width="2.2"/>
<path d="M684.4 345.5V356.5M679.9 345.5h9.0M679.9 356.5h9.0" stroke="#111" stroke-width="2" fill="none"/>
<path d="M751.8 305.6V318.0M747.3 305.6h9.0M747.3 318.0h9.0" stroke="#111" stroke-width="2" fill="none"/>
<path d="M817.7 321.8V335.4M813.2 321.8h9.0M813.2 335.4h9.0" stroke="#111" stroke-width="2" fill="none"/>
<rect x="679.8" y="346.4" width="9.2" height="9.2" fill="none" stroke="#111" stroke-width="2.2"/>
<rect x="747.2" y="307.2" width="9.2" height="9.2" fill="none" stroke="#111" stroke-width="2.2"/>
<rect x="813.1" y="324.0" width="9.2" height="9.2" fill="none" stroke="#111" stroke-width="2.2"/>
<text x="748.5" y="281.4" font-size="20" text-anchor="middle" font-weight="bold" fill="#111" stroke="#111" stroke-width="0.36" letter-spacing="2.2">**</text>
<text x="750.5" y="287.4" font-size="12.4" text-anchor="middle" fill="#333" stroke="#333" stroke-width="0.3">###</text>
<text x="747.8" y="302.0" font-size="12.2" text-anchor="middle" fill="#333" stroke="#333" stroke-width="0.3">&amp;&amp;&amp;</text>
<text x="795.6" y="312.0" font-size="12.4" fill="#333" stroke="#333" stroke-width="0.3">###</text>
<text x="820.7" y="313.0" font-size="13" fill="#333" stroke="#333" stroke-width="0.3">^^^</text>
<line x1="677.6" y1="395.6" x2="696.8000000000001" y2="395.6" stroke="#111" stroke-width="1.5"/>
<rect x="682.3" y="390.7" width="9.8" height="9.8" fill="none" stroke="#111" stroke-width="1.8"/>
<line x1="682.3000000000001" y1="395.6" x2="692.1" y2="395.6" stroke="#111" stroke-width="1.6"/>
<text x="702.0" y="400.0" font-size="12.3" fill="#222" stroke="#222" stroke-width="0.3">CRHR2<tspan font-size="6.6" dy="-4">+/+</tspan><tspan dy="4">(n=10)</tspan></text>
<line x1="677.6" y1="412.7" x2="696.8000000000001" y2="412.7" stroke="#e0202a" stroke-width="1.5"/>
<circle cx="687.2" cy="412.7" r="4.9" fill="none" stroke="#e0202a" stroke-width="1.8"/>
<line x1="682.3000000000001" y1="412.7" x2="692.1" y2="412.7" stroke="#e0202a" stroke-width="1.6"/>
<text x="702.0" y="416.6" font-size="12.3" fill="#222" stroke="#222" stroke-width="0.3">CRHR2<tspan font-size="6.6" dy="-4">-/-</tspan><tspan dy="4">(n=7)</tspan></text>
<line x1="677.6" y1="428.2" x2="696.8000000000001" y2="428.2" stroke="#1010c8" stroke-width="1.5"/>
<circle cx="687.2" cy="428.2" r="6.1" fill="#1010c8"/>
<text x="702.0" y="432.2" font-size="12.3" fill="#222" stroke="#222" stroke-width="0.3">CRHR2<tspan font-size="6.6" dy="-4">-/-</tspan><tspan dy="4">+ADX(n=7)</tspan></text>
<text x="682.8" y="453.6" font-size="12.4" fill="#222" stroke="#222" stroke-width="0.3">Base</text>
<text x="682.8" y="469.0" font-size="12.4" fill="#222" stroke="#222" stroke-width="0.3">-line</text>
<text x="745.6" y="453.6" font-size="12.4" fill="#222" stroke="#222" stroke-width="0.3">Fast</text>
<text x="745.6" y="469.0" font-size="12.4" fill="#222" stroke="#222" stroke-width="0.3">glucose</text>
<text x="806.3" y="453.6" font-size="12.4" fill="#222" stroke="#222" stroke-width="0.3">Delay</text>
<text x="806.3" y="469.0" font-size="12.4" fill="#222" stroke="#222" stroke-width="0.3">glucose</text>
<text x="28.0" y="507.8" font-size="22.3" fill="#111" stroke="#111" stroke-width="0.36">i</text>
<text x="58.7" y="515.6" font-size="12.2" fill="#2a2ad8" stroke="#2a2ad8" stroke-width="0.3">Astressin 2B</text>
<text x="92.6" y="526.4" font-size="12" fill="#c8283a" stroke="#c8283a" stroke-width="0.3">footshock</text>
<line x1="63" y1="520" x2="63" y2="536" stroke="#222" stroke-width="1.6"/>
<line x1="66.4" y1="535" x2="88.8" y2="526.6" stroke="#c8283a" stroke-width="1.4"/>
<polygon points="60.1,535.9 176.2,535.9 176.2,529.4 199.6,542.9 176.2,556.4 176.2,549.2 60.1,549.2" fill="#0707f2"/>
<rect x="64.1" y="535.9" width="5.0" height="13.3" fill="#a9a9b4"/>
<polygon points="55.4,560.4 61.6,560.4 58.5,550.3" fill="#111111"/>
<polygon points="66.2,560.4 72.4,560.4 69.3,550.3" fill="#111111"/>
<polygon points="170.6,560.4 176.8,560.4 173.7,550.3" fill="#111111"/>
<text x="58.5" y="572.5" font-size="11" text-anchor="middle" fill="#111111" stroke="#111111" stroke-width="0.3">0</text>
<text x="156.4" y="572.5" font-size="11" fill="#111111" stroke="#111111" stroke-width="0.3">30 (min)</text>
<text x="66.6" y="608.4" font-size="12.2" fill="#2a2ad8" stroke="#2a2ad8" stroke-width="0.3">Astressin 2B</text>
<g transform="translate(25,620) scale(0.16779)" fill="none" stroke="#565656" stroke-width="11.5" stroke-linecap="round" stroke-linejoin="round"><path d="M622 158C590 154 550 140 500 124C420 100 330 88 262 110C190 138 158 216 165 282C170 316 196 344 232 358C270 370 310 366 332 350C352 332 362 300 364 268" /><path d="M622 156C604 124 622 92 656 90C690 90 708 116 698 146" /><path d="M640 100C668 100 688 118 684 150" stroke-width="7"/><path d="M698 132C740 146 790 166 812 186C832 202 820 222 796 220L770 224C752 240 730 258 700 274C676 288 656 304 640 320C624 330 610 336 600 340L606 374L700 384" /><path d="M690 402C650 410 596 406 560 394C532 384 510 356 476 334C450 316 410 312 384 322C364 330 348 344 334 354" /><path d="M174 322C186 350 206 372 236 384C262 392 296 392 322 394" /><path d="M222 378C250 380 280 378 304 380C318 384 330 392 334 398" stroke-width="14"/><path d="M166 280C124 330 64 388 46 436C44 470 66 492 133 504C200 510 330 504 400 506C440 508 468 516 486 536C500 556 482 568 454 570" stroke-width="10"/><path d="M172 314C134 352 84 398 68 438C66 462 90 478 148 490C220 498 330 494 400 498" stroke-width="8"/><path d="M772 226L742 292M778 230L762 300M782 230L786 312" stroke-width="9"/><ellipse cx="716" cy="384" rx="20" ry="16" fill="#6a6a6a" stroke="none"/><ellipse cx="736" cy="181" rx="15" ry="10" fill="#707070" stroke="none"/></g>
<g transform="translate(25,620) scale(0.16779)" fill="none" stroke-linecap="round"><path d="M350 153C335 141 312 139 292 153C276 165 265 182 263 199C272 201 282 197 290 190C304 178 322 170 343 167Z" fill="#27708e" stroke="#1f5f7c" stroke-width="4"/><path d="M352 155C361 172 357 195 345 211C333 225 316 233 298 235C295 227 300 218 306 212C318 200 328 186 335 170Z" fill="#27708e" stroke="#1f5f7c" stroke-width="4"/><path d="M346 160L388 86M344 158L432 124" stroke="#2a2a2a" stroke-width="12"/><circle cx="394" cy="67" r="18.5" stroke="#2a2a2a" stroke-width="8"/><circle cx="449" cy="117.5" r="18.5" stroke="#2a2a2a" stroke-width="8"/><circle cx="261.7" cy="244.5" r="31.5" fill="#f59c0c"/></g>
<rect x="143" y="591.6" width="9.6" height="3.2" fill="#1a1a1a"/>
<rect x="142.4" y="596" width="10.8" height="4.4" fill="#333" stroke="#111" stroke-width="1"/>
<rect x="144.9" y="600.6" width="6" height="24.6" fill="#0707f2"/>
<rect x="147" y="625" width="1.9" height="24" fill="#2222cc"/>
<polygon points="143.5,686.0 148.5,683.5 149.5,688.0 153.0,686.5 154.0,691.0 157.5,690.0 163.0,698.5 155.5,701.5 152.5,696.5 150.0,697.5 148.5,693.0 146.0,694.0" fill="#ee1515"/>
<text x="70.5" y="728.0" font-size="16" font-style="italic" fill="#222" stroke="#222" stroke-width="0.36">WT</text>
<text x="218.8" y="507.8" font-size="22.3" fill="#111" stroke="#111" stroke-width="0.36">j</text>
<path d="M251.5 552.4V700.3H412" fill="none" stroke="#000" stroke-width="2.6"/>
<line x1="247.0" y1="553.4" x2="251.5" y2="553.4" stroke="#000" stroke-width="2"/>
<text x="245.2" y="558.1" font-size="11.3" text-anchor="end" fill="#222" stroke="#222" stroke-width="0.3">8</text>
<line x1="247.0" y1="612.3" x2="251.5" y2="612.3" stroke="#000" stroke-width="2"/>
<text x="245.2" y="617.0" font-size="11.3" text-anchor="end" fill="#222" stroke="#222" stroke-width="0.3">6</text>
<line x1="247.0" y1="671.3" x2="251.5" y2="671.3" stroke="#000" stroke-width="2"/>
<text x="245.2" y="676.0" font-size="11.3" text-anchor="end" fill="#222" stroke="#222" stroke-width="0.3">4</text>
<text transform="translate(230.5,619.5) rotate(-90)" font-size="12.2" text-anchor="middle" fill="#222" stroke="#222" stroke-width="0.3">Blood glucose levels (mmol/L)</text>
<polyline points="263.3,633.4 329.1,643.0 395.7,669.0" fill="none" stroke="#1010c8" stroke-width="2.8000000000000003" stroke-dasharray="1.7 1.0"/>
<path d="M263.3 626.4V640.4M258.8 626.4h9.0M258.8 640.4h9.0" stroke="#1010c8" stroke-width="2" fill="none"/>
<path d="M329.1 635.0V651.0M324.6 635.0h9.0M324.6 651.0h9.0" stroke="#1010c8" stroke-width="2" fill="none"/>
<path d="M395.7 665.0V674.0M391.2 665.0h9.0M391.2 674.0h9.0" stroke="#1010c8" stroke-width="2" fill="none"/>
<circle cx="263.3" cy="633.4" r="5.8" fill="#1010c8"/>
<circle cx="329.1" cy="643.0" r="5.8" fill="#1010c8"/>
<circle cx="395.7" cy="669.0" r="5.8" fill="#1010c8"/>
<polyline points="263.3,622.0 329.1,607.7 395.7,658.0" fill="none" stroke="#e0202a" stroke-width="2.8000000000000003" stroke-dasharray="1.7 1.0"/>
<path d="M263.3 616.5V627.5M258.8 616.5h9.0M258.8 627.5h9.0" stroke="#e0202a" stroke-width="2" fill="none"/>
<path d="M329.1 602.7V612.7M324.6 602.7h9.0M324.6 612.7h9.0" stroke="#e0202a" stroke-width="2" fill="none"/>
<path d="M395.7 652.0V664.0M391.2 652.0h9.0M391.2 664.0h9.0" stroke="#e0202a" stroke-width="2" fill="none"/>
<circle cx="263.3" cy="622.0" r="5" fill="none" stroke="#e0202a" stroke-width="1.8"/>
<circle cx="329.1" cy="607.7" r="5" fill="none" stroke="#e0202a" stroke-width="1.8"/>
<circle cx="395.7" cy="658.0" r="5" fill="none" stroke="#e0202a" stroke-width="1.8"/>
<polyline points="263.3,620.6 329.1,597.0 395.7,611.7" fill="none" stroke="#111" stroke-width="2.2"/>
<path d="M263.3 612.1V629.1M258.8 612.1h9.0M258.8 629.1h9.0" stroke="#111" stroke-width="2" fill="none"/>
<path d="M329.1 584.5V608.0M324.6 584.5h9.0M324.6 608.0h9.0" stroke="#111" stroke-width="2" fill="none"/>
<path d="M395.7 599.7V623.7M391.2 599.7h9.0M391.2 623.7h9.0" stroke="#111" stroke-width="2" fill="none"/>
<rect x="258.2" y="615.5" width="10.2" height="10.2" fill="none" stroke="#111" stroke-width="2"/>
<rect x="324.0" y="591.9" width="10.2" height="10.2" fill="none" stroke="#111" stroke-width="2"/>
<rect x="390.6" y="606.6" width="10.2" height="10.2" fill="none" stroke="#111" stroke-width="2"/>
<line x1="258.1" y1="514.7" x2="277.1" y2="514.7" stroke="#111" stroke-width="1.5"/>
<rect x="262.8" y="509.9" width="9.6" height="9.6" fill="none" stroke="#111" stroke-width="1.8"/>
<line x1="262.8" y1="514.7" x2="272.40000000000003" y2="514.7" stroke="#111" stroke-width="1.6"/>
<text x="282.8" y="519.0" font-size="12.3" fill="#222" stroke="#222" stroke-width="0.3">Sham+Veh(n=8)</text>
<line x1="258.6" y1="531.5" x2="276.6" y2="531.5" stroke="#e0202a" stroke-width="1.5"/>
<circle cx="267.6" cy="531.5" r="4.8" fill="none" stroke="#e0202a" stroke-width="1.8"/>
<line x1="262.8" y1="531.5" x2="272.40000000000003" y2="531.5" stroke="#e0202a" stroke-width="1.6"/>
<text x="282.8" y="535.6" font-size="12.3" fill="#222" stroke="#222" stroke-width="0.3">ADX+Veh(n=8)</text>
<line x1="258.6" y1="547.4" x2="276.6" y2="547.4" stroke="#1010c8" stroke-width="1.5"/>
<circle cx="267.6" cy="547.4" r="5.6" fill="#1010c8"/>
<text x="282.8" y="551.0" font-size="12.3" fill="#222" stroke="#222" stroke-width="0.3">ADX+Astressin 2B(n=8)</text>
<text x="323.0" y="569.6" font-size="20" text-anchor="middle" font-weight="bold" fill="#111" stroke="#111" stroke-width="0.36" letter-spacing="2.2">**</text>
<text x="340.4" y="566.0" font-size="11" text-anchor="middle" fill="#333" stroke="#333" stroke-width="0.3">^</text>
<text x="321.5" y="578.2" font-size="11.6" text-anchor="middle" fill="#333" stroke="#333" stroke-width="0.3">&amp;&amp;</text>
<text x="343.8" y="578.2" font-size="11.4" text-anchor="middle" fill="#333" stroke="#333" stroke-width="0.3">$$</text>
<text x="396.0" y="586.0" font-size="20" text-anchor="middle" font-weight="bold" fill="#111" stroke="#111" stroke-width="0.36" letter-spacing="2.2">**</text>
<text x="396.2" y="595.0" font-size="12.4" text-anchor="middle" fill="#333" stroke="#333" stroke-width="0.3">###</text>
<text x="249.0" y="715.0" font-size="12.4" fill="#222" stroke="#222" stroke-width="0.3">Base</text>
<text x="249.0" y="729.6" font-size="12.4" fill="#222" stroke="#222" stroke-width="0.3">-line</text>
<text x="311.6" y="715.0" font-size="12.4" fill="#222" stroke="#222" stroke-width="0.3">Fast</text>
<text x="311.6" y="729.6" font-size="12.4" fill="#222" stroke="#222" stroke-width="0.3">glucose</text>
<text x="372.6" y="715.0" font-size="12.4" fill="#222" stroke="#222" stroke-width="0.3">Delay</text>
<text x="372.6" y="729.6" font-size="12.4" fill="#222" stroke="#222" stroke-width="0.3">glucose</text>
<text x="443.5" y="507.8" font-size="22.3" fill="#111" stroke="#111" stroke-width="0.36">k</text>
<text x="469.6" y="516.8" font-size="12.3" fill="#c8283a" stroke="#c8283a" stroke-width="0.3">CORT108297</text>
<text x="469.6" y="527.7" font-size="12.2" fill="#2a2ad8" stroke="#2a2ad8" stroke-width="0.3">Astressin 2B</text>
<text x="503.0" y="538.8" font-size="12" fill="#c8283a" stroke="#c8283a" stroke-width="0.3">footshock</text>
<line x1="473.4" y1="532.6" x2="473.4" y2="549" stroke="#222" stroke-width="1.6"/>
<line x1="476.8" y1="548" x2="499.2" y2="539.8" stroke="#c8283a" stroke-width="1.4"/>
<polygon points="470.5,549.3 586.6,549.3 586.6,542.5 610.4,556.05 586.6,569.6 586.6,562.6 470.5,562.6" fill="#0707f2"/>
<rect x="474.5" y="549.3" width="5.2" height="13.3" fill="#a9a9b4"/>
<polygon points="466.2,573.8 472.4,573.8 469.3,563.7" fill="#111111"/>
<polygon points="477.0,573.8 483.2,573.8 480.1,563.7" fill="#111111"/>
<polygon points="580.5,573.8 586.7,573.8 583.6,563.7" fill="#111111"/>
<text x="469.3" y="586.2" font-size="11" text-anchor="middle" fill="#111111" stroke="#111111" stroke-width="0.3">0</text>
<text x="567.3" y="586.2" font-size="11" fill="#111111" stroke="#111111" stroke-width="0.3">30 (min)</text>
<text x="499.7" y="613.5" font-size="12.2" fill="#2a2ad8" stroke="#2a2ad8" stroke-width="0.3">Astressin 2B</text>
<g transform="translate(459.0,626.0) scale(0.16779)" fill="none" stroke="#565656" stroke-width="11.5" stroke-linecap="round" stroke-linejoin="round"><path d="M622 158C590 154 550 140 500 124C420 100 330 88 262 110C190 138 158 216 165 282C170 316 196 344 232 358C270 370 310 366 332 350C352 332 362 300 364 268" /><path d="M622 156C604 124 622 92 656 90C690 90 708 116 698 146" /><path d="M640 100C668 100 688 118 684 150" stroke-width="7"/><path d="M698 132C740 146 790 166 812 186C832 202 820 222 796 220L770 224C752 240 730 258 700 274C676 288 656 304 640 320C624 330 610 336 600 340L606 374L700 384" /><path d="M690 402C650 410 596 406 560 394C532 384 510 356 476 334C450 316 410 312 384 322C364 330 348 344 334 354" /><path d="M174 322C186 350 206 372 236 384C262 392 296 392 322 394" /><path d="M222 378C250 380 280 378 304 380C318 384 330 392 334 398" stroke-width="14"/><path d="M166 280C124 330 64 388 46 436C44 470 66 492 133 504C200 510 330 504 400 506C440 508 468 516 486 536C500 556 482 568 454 570" stroke-width="10"/><path d="M172 314C134 352 84 398 68 438C66 462 90 478 148 490C220 498 330 494 400 498" stroke-width="8"/><path d="M772 226L742 292M778 230L762 300M782 230L786 312" stroke-width="9"/><ellipse cx="716" cy="384" rx="20" ry="16" fill="#6a6a6a" stroke="none"/><ellipse cx="736" cy="181" rx="15" ry="10" fill="#707070" stroke="none"/></g>
<rect x="576.2" y="596.8" width="9.6" height="3.2" fill="#1a1a1a"/>
<rect x="575.6" y="601.2" width="10.8" height="4.4" fill="#333" stroke="#111" stroke-width="1"/>
<rect x="578.1" y="605.8" width="6" height="24.4" fill="#0707f2"/>
<rect x="580.2" y="630" width="1.9" height="24.4" fill="#2222cc"/>
<g transform="translate(517,680) rotate(31.6)">
<rect x="0" y="-0.9" width="22" height="1.8" fill="#c01822"/>
<rect x="21" y="-3" width="27" height="6" fill="#d8141e"/>
<rect x="48" y="-4.6" width="3" height="9.2" fill="#222"/>
<rect x="52.2" y="-4.6" width="3" height="9.2" fill="#222"/>
</g>
<polygon points="579.8,693.6 584.8,691.1 585.8,695.6 589.3,694.1 590.3,698.6 593.8,697.6 599.5,706.1 591.8,709.1 588.8,704.1 586.3,705.1 584.8,700.6 582.3,701.6" fill="#ee1515"/>
<text x="551.0" y="722.8" font-size="12.2" fill="#d42430" stroke="#d42430" stroke-width="0.3">CORT108297</text>
<text x="504.3" y="732.4" font-size="16" font-style="italic" fill="#222" stroke="#222" stroke-width="0.36">WT</text>
<text x="606.8" y="507.8" font-size="22.3" fill="#111" stroke="#111" stroke-width="0.36">l</text>
<path d="M667.5 526.8V704.4H866.7" fill="none" stroke="#000" stroke-width="2.6"/>
<line x1="663.0" y1="527.8" x2="667.5" y2="527.8" stroke="#000" stroke-width="2"/>
<text x="661.2" y="532.5" font-size="11.3" text-anchor="end" fill="#222" stroke="#222" stroke-width="0.3">8</text>
<line x1="663.0" y1="598.3" x2="667.5" y2="598.3" stroke="#000" stroke-width="2"/>
<text x="661.2" y="603.0" font-size="11.3" text-anchor="end" fill="#222" stroke="#222" stroke-width="0.3">6</text>
<line x1="663.0" y1="669.1" x2="667.5" y2="669.1" stroke="#000" stroke-width="2"/>
<text x="661.2" y="673.8" font-size="11.3" text-anchor="end" fill="#222" stroke="#222" stroke-width="0.3">4</text>
<text transform="translate(647.5,622) rotate(-90)" font-size="12.2" text-anchor="middle" fill="#222" stroke="#222" stroke-width="0.3">Blood glucose levels (mmol/L)</text>
<polyline points="680.4,636.0 759.7,635.0 839.1,634.5" fill="none" stroke="#1010c8" stroke-width="2.8000000000000003" stroke-dasharray="1.7 1.0"/>
<path d="M680.4 628.0V644.0M675.9 628.0h9.0M675.9 644.0h9.0" stroke="#1010c8" stroke-width="2" fill="none"/>
<path d="M759.7 626.5V643.5M755.2 626.5h9.0M755.2 643.5h9.0" stroke="#1010c8" stroke-width="2" fill="none"/>
<path d="M839.1 626.5V642.5M834.6 626.5h9.0M834.6 642.5h9.0" stroke="#1010c8" stroke-width="2" fill="none"/>
<circle cx="680.4" cy="636.0" r="5.8" fill="#1010c8"/>
<circle cx="759.7" cy="635.0" r="5.8" fill="#1010c8"/>
<circle cx="839.1" cy="634.5" r="5.8" fill="#1010c8"/>
<polyline points="680.4,640.6 759.7,610.0 839.1,598.2" fill="none" stroke="#111" stroke-width="2.2"/>
<path d="M680.4 636.6V644.6M675.9 636.6h9.0M675.9 644.6h9.0" stroke="#111" stroke-width="2" fill="none"/>
<path d="M759.7 606.5V613.5M755.2 606.5h9.0M755.2 613.5h9.0" stroke="#111" stroke-width="2" fill="none"/>
<path d="M839.1 594.7V601.7M834.6 594.7h9.0M834.6 601.7h9.0" stroke="#111" stroke-width="2" fill="none"/>
<rect x="676.0" y="636.2" width="8.8" height="8.8" fill="none" stroke="#111" stroke-width="2"/>
<rect x="755.3" y="605.6" width="8.8" height="8.8" fill="none" stroke="#111" stroke-width="2"/>
<rect x="834.7" y="593.8" width="8.8" height="8.8" fill="none" stroke="#111" stroke-width="2"/>
<polyline points="680.4,641.6 759.7,601.9 839.1,621.3" fill="none" stroke="#e0202a" stroke-width="2.2"/>
<path d="M680.4 635.1V648.1M675.9 635.1h9.0M675.9 648.1h9.0" stroke="#e0202a" stroke-width="2" fill="none"/>
<path d="M759.7 596.9V606.9M755.2 596.9h9.0M755.2 606.9h9.0" stroke="#e0202a" stroke-width="2" fill="none"/>
<path d="M839.1 616.8V625.8M834.6 616.8h9.0M834.6 625.8h9.0" stroke="#e0202a" stroke-width="2" fill="none"/>
<circle cx="680.4" cy="641.6" r="5" fill="none" stroke="#e0202a" stroke-width="1.8"/>
<circle cx="759.7" cy="601.9" r="5" fill="none" stroke="#e0202a" stroke-width="1.8"/>
<circle cx="839.1" cy="621.3" r="5" fill="none" stroke="#e0202a" stroke-width="1.8"/>
<line x1="674.8" y1="510.6" x2="692.8" y2="510.6" stroke="#111" stroke-width="1.5"/>
<rect x="679.4" y="506.2" width="8.8" height="8.8" fill="none" stroke="#111" stroke-width="1.8"/>
<line x1="679.4" y1="510.6" x2="688.1999999999999" y2="510.6" stroke="#111" stroke-width="1.6"/>
<text x="696.0" y="515.2" font-size="12.3" fill="#222" stroke="#222" stroke-width="0.3">Veh (n=6)</text>
<line x1="674.8" y1="527.6" x2="692.8" y2="527.6" stroke="#e0202a" stroke-width="1.5"/>
<circle cx="683.8" cy="527.6" r="4.8" fill="none" stroke="#e0202a" stroke-width="1.8"/>
<line x1="679.0" y1="527.6" x2="688.5999999999999" y2="527.6" stroke="#e0202a" stroke-width="1.6"/>
<text x="696.0" y="531.9" font-size="12.3" fill="#222" stroke="#222" stroke-width="0.3">CORT108297 (n=6)</text>
<line x1="675.1999999999999" y1="542.9" x2="692.4" y2="542.9" stroke="#1010c8" stroke-width="1.5"/>
<circle cx="683.8" cy="542.9" r="5.8" fill="#1010c8"/>
<text x="694.4" y="547.6" font-size="12.3" fill="#222" stroke="#222" stroke-width="0.3">CORT108297+Astressin2B (n=6)</text>
<text x="742.8" y="583.6" font-size="19.5" text-anchor="middle" font-weight="bold" fill="#111" stroke="#111" stroke-width="0.36">*</text>
<text x="769.4" y="580.2" font-size="12.6" text-anchor="middle" fill="#333" stroke="#333" stroke-width="0.3">^^</text>
<text x="756.7" y="592.6" font-size="12.3" text-anchor="middle" fill="#333" stroke="#333" stroke-width="0.3">&amp;&amp;&amp;$$$</text>
<text x="840.6" y="583.6" font-size="20" text-anchor="middle" font-weight="bold" fill="#111" stroke="#111" stroke-width="0.36" letter-spacing="2.2">**</text>
<text x="837.8" y="592.4" font-size="12" text-anchor="middle" fill="#333" stroke="#333" stroke-width="0.3">#</text>
<text x="667.5" y="718.8" font-size="12.4" fill="#222" stroke="#222" stroke-width="0.3">Baseline</text>
<text x="748.0" y="718.8" font-size="12.4" fill="#222" stroke="#222" stroke-width="0.3">Fast</text>
<text x="748.0" y="733.6" font-size="12.4" fill="#222" stroke="#222" stroke-width="0.3">glucose</text>
<text x="820.7" y="718.8" font-size="12.4" fill="#222" stroke="#222" stroke-width="0.3">Delay</text>
<text x="820.7" y="733.6" font-size="12.4" fill="#222" stroke="#222" stroke-width="0.3">glucose</text>
</svg>
</body></html>
